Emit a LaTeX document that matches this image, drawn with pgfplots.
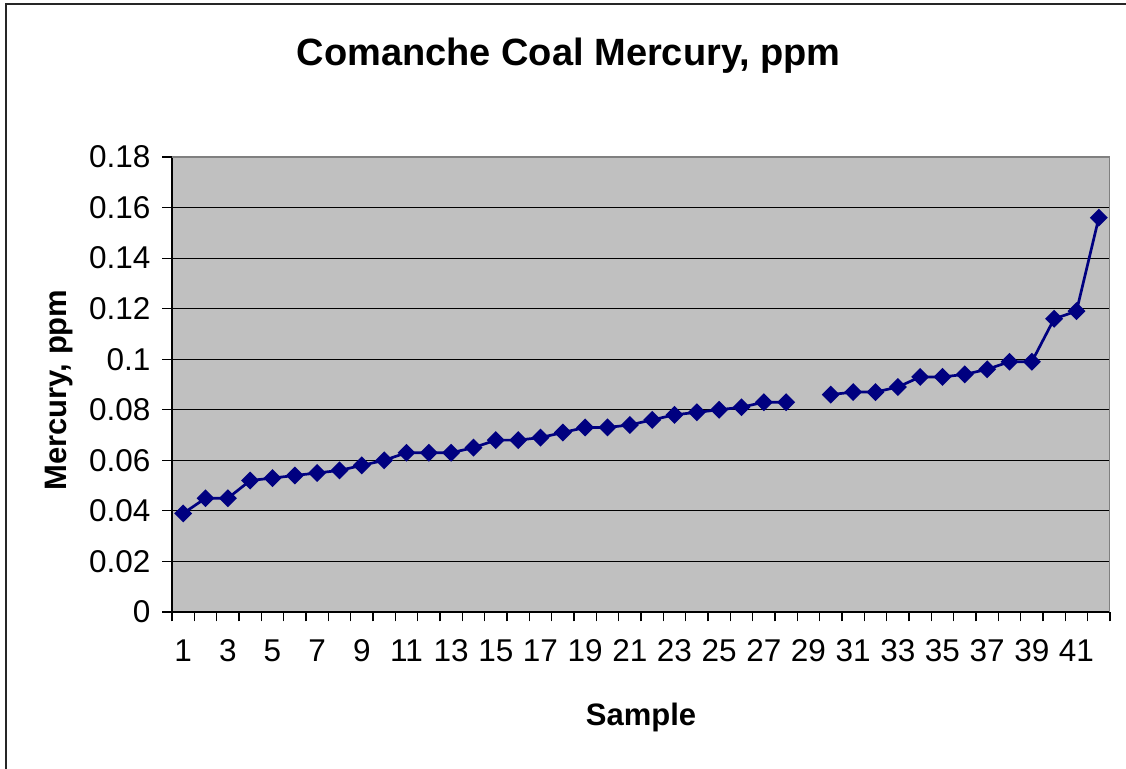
\documentclass[border=0pt]{standalone}
\usepackage{pgfplots}
\pgfplotsset{compat=1.18}
\usepackage{fontspec}
\setmainfont{Liberation Sans}
\definecolor{plotbg}{RGB}{192,192,192}
\definecolor{navyline}{RGB}{0,0,128}
\definecolor{framegray}{RGB}{128,128,128}

\begin{document}
\begin{tikzpicture}
  % 1 px of the reference = 0.5pt
  \useasboundingbox (0,0) rectangle (563pt,-384.5pt);
  \draw[line width=1pt, black!85] (2.75pt,-384.5pt) -- (2.75pt,-2pt) -- (563pt,-2pt);
  \begin{axis}[
      at={(86pt,-306pt)}, anchor=south west,
      scale only axis, width=469pt, height=227.5pt,
      xmin=0.5, xmax=42.5, ymin=0, ymax=0.18,
      axis x line*=bottom, axis y line*=left,
      axis line style={black, line width=0.9pt},
      axis background/.style={fill=plotbg},
      tick align=outside, major tick length=4.75pt,
      tick style={black, line width=0.6pt},
      xtick={0.5,1.5,...,42.5}, xticklabels={},
      extra x ticks={1,3,...,41},
      extra x tick labels={1,3,5,7,9,11,13,15,17,19,21,23,25,27,29,31,33,35,37,39,41},
      extra x tick style={tick style={draw=none}},
      ytick={0,0.02,0.04,0.06,0.08,0.1,0.12,0.14,0.16,0.18},
      yticklabel style={/pgf/number format/fixed, /pgf/number format/precision=2, xshift=-2.5pt},
      xticklabel style={yshift=-5.5pt},
      ticklabel style={font=\fontsize{15.75}{18}\selectfont},
      /pgf/number format/assume math mode=true,
      ymajorgrids, major grid style={black, line width=0.5pt},
      every axis title shift=0pt,
      title={Comanche Coal Mercury, ppm},
      title style={at={(axis description cs:0.423,1.2)}, anchor=base, font=\fontsize{19}{22}\selectfont\bfseries},
      xlabel={Sample},
      xlabel style={at={(axis description cs:0.5,-0.2505)}, anchor=base, font=\fontsize{15.5}{18}\selectfont\bfseries},
      ylabel={Mercury, ppm},
      ylabel style={at={(axis description cs:-0.112,0.488)}, anchor=base, rotate=0, font=\fontsize{15.5}{18}\selectfont\bfseries},
    ]
    \addplot[navyline, line width=1.35pt, mark=square*, mark size=2.5pt,
      mark options={rotate=45, solid, fill=navyline}, unbounded coords=jump]
      coordinates {
        (1,0.039) (2,0.045) (3,0.045) (4,0.052) (5,0.053) (6,0.054) (7,0.055)
        (8,0.056) (9,0.058) (10,0.060) (11,0.063) (12,0.063) (13,0.063) (14,0.065)
        (15,0.068) (16,0.068) (17,0.069) (18,0.071) (19,0.073) (20,0.073) (21,0.074)
        (22,0.076) (23,0.078) (24,0.079) (25,0.080) (26,0.081) (27,0.083) (28,0.083)
        (29,nan) (30,0.086) (31,0.087) (32,0.087) (33,0.089) (34,0.093) (35,0.093)
        (36,0.094) (37,0.096) (38,0.099) (39,0.099) (40,0.116) (41,0.119) (42,0.156)
      };
    \draw[framegray, line width=1pt] (rel axis cs:0,1) -- (rel axis cs:1,1) -- (rel axis cs:1,0);
  \end{axis}
\end{tikzpicture}
\end{document}
